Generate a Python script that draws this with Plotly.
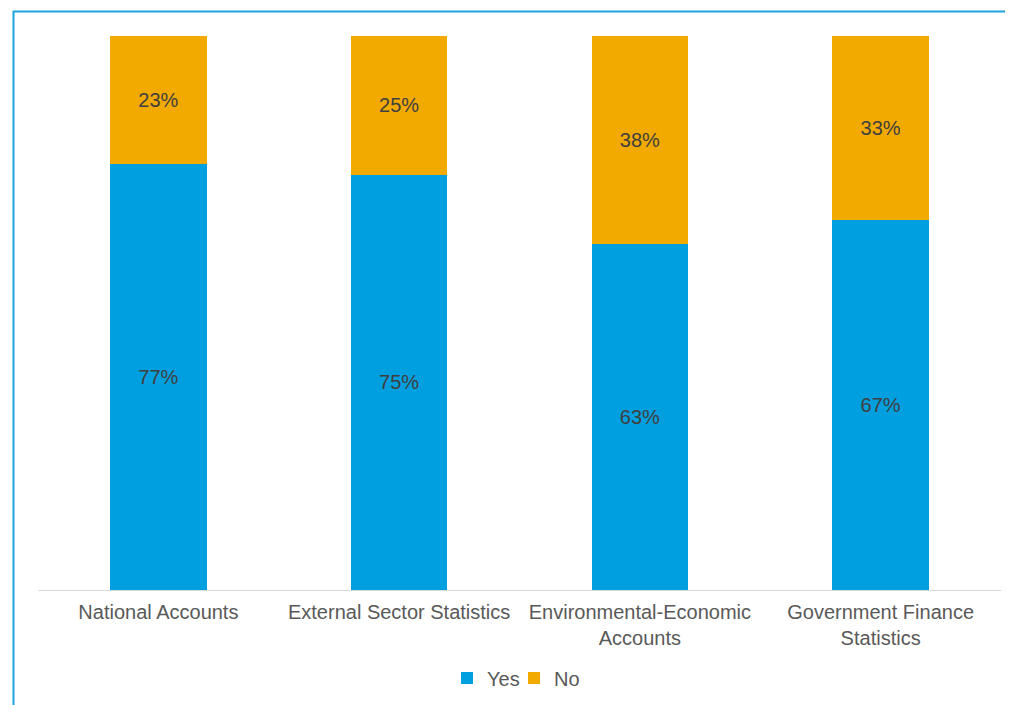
import plotly.graph_objects as go

categories = ["National Accounts", "External Sector Statistics",
              "Environmental-Economic<br>Accounts", "Government Finance<br>Statistics"]
yes_vals = [76.9, 75.0, 62.5, 66.7]
no_vals = [23.1, 25.0, 37.5, 33.3]

def labels(vals):
    return [f"{int(v + 0.5)}%" for v in vals]

OFF = 8  # page body margin
W, H = 1013 - OFF, 705 - OFF
L, R, T, B = 38 - OFF, 12, 36 - OFF, 115
pw, ph = W - L - R, H - T - B

def px_x(p):
    return (p - OFF - L) / pw

def px_y(p):
    return (H - B - (p - OFF)) / ph

FONT = "Liberation Sans, Arial"

fig = go.Figure()
fig.add_trace(go.Bar(name="Yes", x=categories, y=yes_vals, text=labels(yes_vals),
                     marker=dict(color="#009FDF", line=dict(width=0)),
                     textposition="inside", insidetextanchor="middle",
                     textfont=dict(color="#404040", size=20, family=FONT)))
fig.add_trace(go.Bar(name="No", x=categories, y=no_vals, text=labels(no_vals),
                     marker=dict(color="#F2A900", line=dict(width=0)),
                     textposition="inside", insidetextanchor="middle",
                     textfont=dict(color="#404040", size=20, family=FONT)))

# outer chart border (top and left visible)
fig.add_shape(type="line", xref="paper", yref="paper",
              x0=px_x(13), x1=px_x(1030), y0=px_y(11.5), y1=px_y(11.5),
              line=dict(color="#1FA3E0", width=2))
fig.add_shape(type="line", xref="paper", yref="paper",
              x0=px_x(13.5), x1=px_x(13.5), y0=px_y(11), y1=px_y(720),
              line=dict(color="#1FA3E0", width=2))

fig.update_layout(
    barmode="stack", bargap=0.6,
    width=W, height=H,
    margin=dict(l=L, r=R, t=T, b=B, autoexpand=False),
    plot_bgcolor="white", paper_bgcolor="white",
    font=dict(family=FONT, size=20, color="#595959"),
    showlegend=True,
    legend=dict(orientation="h", x=px_x(514), xanchor="center", y=px_y(678), yanchor="middle",
                font=dict(size=20, color="#595959"), traceorder="normal",
                itemwidth=30, entrywidth=22, entrywidthmode="pixels"),
    xaxis=dict(showline=True, linecolor="#D9D9D9", linewidth=1, ticks="",
               tickfont=dict(size=20, color="#595959"), showgrid=False,
               ticklabelstandoff=4, automargin=False),
    yaxis=dict(range=[0, 100], visible=False, showgrid=False),
)

fig.write_html("out.html")
